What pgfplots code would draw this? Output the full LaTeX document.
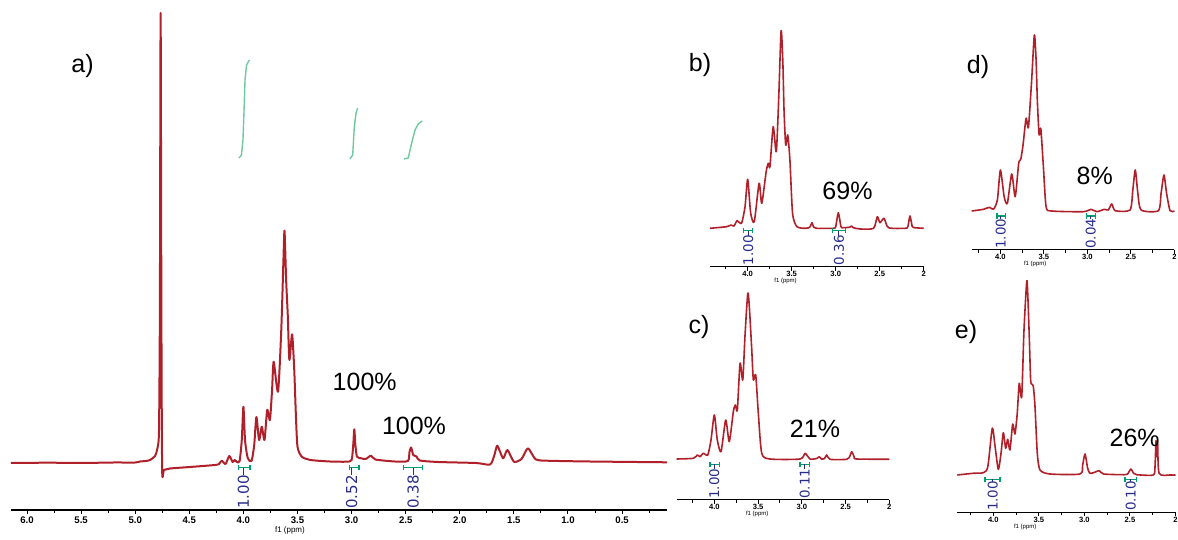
\documentclass[border=0pt]{standalone}
\usepackage{pgfplots}
\pgfplotsset{compat=1.18}
\usepackage{fontspec}
\setmainfont{Liberation Sans}
\newfontfamily\dejavu{DejaVu Sans}
\definecolor{spec}{RGB}{175,32,42}
\definecolor{intg}{RGB}{0,160,110}
\definecolor{intb}{RGB}{40,45,140}
\definecolor{icurve}{RGB}{110,200,160}
\newcommand{\integ}[7]{%
  \draw[intg, line width=0.6pt] (axis cs:#1,#3) -- (axis cs:#2,#3);
  \draw[intg, line width=0.6pt] ([yshift=-1.3pt]axis cs:#1,#3) -- ([yshift=1.3pt]axis cs:#1,#3);
  \draw[intg, line width=0.6pt] ([yshift=-1.3pt]axis cs:#2,#3) -- ([yshift=1.3pt]axis cs:#2,#3);
  \draw[intb, line width=0.5pt] (axis cs:#4,#3) -- (axis cs:#4,#7);
  \node[rotate=90, anchor=west, inner sep=0pt, text=intb, font=\dejavu\fontsize{#6}{#6}\selectfont] at (axis cs:#4,1) {#5};
}
\pgfplotsset{
  nmr/.style={scale only axis, clip=false, x dir=reverse,
    axis x line*=bottom, axis y line=none, axis line style={-, line width=0.5pt},
    ytick=\empty, tick align=outside, major tick length=2pt, minor tick length=1.3pt,
    tick style={black, line width=0.5pt},
    /pgf/number format/assume math mode=true, ymin=0, anchor=south west},
  sub/.style={nmr, xmin=2, xtick={2,2.5,3,3.5,4}, xticklabels={2,2.5,3.0,3.5,4.0},
    minor xtick={2.25,2.75,3.25,3.75,4.25},
    xticklabel style={font=\fontsize{3.8}{4}\selectfont\bfseries, anchor=center, yshift=-1.6pt}},
  sp/.style={color=spec, line width=0.8pt, no marks, line join=round, smooth, tension=0.4},
}
\begin{document}
\begin{tikzpicture}[x=1pt,y=1pt]
\useasboundingbox (0,0) rectangle (589,270);
% ---------------- panel a
\begin{axis}[nmr, at={(5.5pt,15pt)}, width=328pt, height=255pt, xmin=0.085, xmax=6.148, ymax=510,
  axis line style={-, line width=0.8pt},
  xtick={0.5,1,1.5,2,2.5,3,3.5,4,4.5,5,5.5,6},
  xticklabels={0.5,1.0,1.5,2.0,2.5,3.0,3.5,4.0,4.5,5.0,5.5,6.0},
  minor xtick={0.25,0.75,1.25,1.75,2.25,2.75,3.25,3.75,4.25,4.75,5.25,5.75},
  xticklabel style={font=\fontsize{4.8}{5}\selectfont\bfseries, anchor=center, yshift=-3pt}]
\addplot[sp, line width=1pt] coordinates {
(6.148,47) (5.8,47.3) (5.5,47) (5.2,47.5) (5.0,47.5) (4.956,48.5) (4.90,49) (4.863,50) (4.817,54) (4.794,62) (4.780,80) (4.772,200) (4.765,497) (4.758,200) (4.751,41) (4.734,40) (4.678,41.5) (4.494,43) (4.262,45) (4.226,46) (4.20,49.3) (4.165,46) (4.13,54) (4.10,48) (4.08,50) (4.06,48) (4.035,49) (4.015,70) (4.0,103.3) (3.985,70) (3.96,52) (3.925,49) (3.90,65) (3.88,93) (3.855,70) (3.83,83.3) (3.805,70) (3.78,100) (3.755,90) (3.735,120) (3.72,148.3) (3.68,118.3) (3.65,180) (3.63,250) (3.62,279.3) (3.605,230) (3.59,195) (3.575,150) (3.55,175.7) (3.53,140) (3.515,95) (3.50,63.3) (3.46,53.3) (3.38,50) (3.2,48.5) (3.05,48.3) (3.0,50) (2.985,65) (2.975,80.7) (2.965,65) (2.95,53.3) (2.91,51.7) (2.87,51) (2.82,54.3) (2.78,50.5) (2.6,48.5) (2.48,49) (2.465,58) (2.45,62.5) (2.43,55) (2.40,53.5) (2.37,49.5) (2.2,48) (1.85,47) (1.72,45.5) (1.68,55) (1.653,64.3) (1.60,51.7) (1.56,60) (1.50,48.3) (1.43,51) (1.37,61.7) (1.30,50.7) (1.20,49.3) (0.8,48.5) (0.085,47.7)};
\addplot[color=icurve, line width=0.7pt, no marks] coordinates {(4.041,352) (4.018,355) (4.004,370) (3.994,400) (3.985,430) (3.971,445) (3.945,450)};
\addplot[color=icurve, line width=0.7pt, no marks] coordinates {(3.015,351) (2.990,355) (2.975,383) (2.959,397) (2.944,402)};
\addplot[color=icurve, line width=0.7pt, no marks] coordinates {(2.516,351) (2.476,352) (2.445,367) (2.414,380) (2.384,386) (2.347,389)};
\integ{4.047}{3.939}{42.3}{4.0}{1.00}{7.5}{35}
\integ{3.021}{2.932}{42.3}{3.0}{0.52}{7.5}{35}
\integ{2.522}{2.343}{42.3}{2.43}{0.38}{7.5}{35}
\node[font=\fontsize{4}{4}\selectfont, yshift=-10.3pt] at (axis cs:3.57,0) {f1 (ppm)};
\end{axis}
% ---------------- panel b
\begin{axis}[sub, at={(355pt,136.65pt)}, width=106.85pt, height=123.35pt, xmax=4.428, ymax=246.7]
\addplot[sp] coordinates {
(4.428,38.4) (4.24,40) (4.19,41.7) (4.155,40.7) (4.12,46) (4.07,43.4) (4.03,60) (4.0,87.4) (3.966,53.7) (3.925,45) (3.87,83.4) (3.84,63.4) (3.79,95) (3.766,103.4) (3.747,100) (3.71,140) (3.675,115) (3.648,166.7) (3.62,236) (3.60,203.4) (3.587,156.7) (3.568,121.7) (3.545,131.7) (3.52,106.7) (3.49,53.4) (3.44,40) (3.33,38.4) (3.29,40) (3.27,44) (3.25,39.5) (3.216,38.4) (3.027,38.4) (3.0,40) (2.97,54) (2.94,40) (2.914,39) (2.84,39.5) (2.82,40.7) (2.8,39) (2.72,37.7) (2.57,38.4) (2.527,50) (2.497,44) (2.45,48.4) (2.40,39) (2.21,38.4) (2.18,40) (2.156,50.7) (2.13,40) (2.107,39) (2.0,38.4)};
\integ{4.05}{3.943}{36}{3.993}{1.00}{6.7}{31}
\integ{3.034}{2.89}{36}{2.963}{0.36}{6.7}{31}
\node[font=\fontsize{3}{3}\selectfont, yshift=-7.2pt] at (axis cs:3.57,0) {f1 (ppm)};
\end{axis}
% ---------------- panel d
\begin{axis}[sub, at={(485.85pt,145pt)}, width=101.35pt, height=112.5pt, xmax=4.33, ymax=225]
\addplot[sp] coordinates {
(4.33,39) (4.195,40.7) (4.126,42.7) (4.08,40.7) (4.035,50) (4.0,80) (3.957,53.3) (3.92,46.7) (3.87,76) (3.83,53.3) (3.79,86.7) (3.766,90.7) (3.74,105) (3.705,131.7) (3.678,122.7) (3.643,166.7) (3.61,215) (3.59,190) (3.575,148.3) (3.555,115) (3.536,121.7) (3.506,83.3) (3.475,43.3) (3.41,39) (3.046,38.3) (2.96,40.7) (2.89,38.3) (2.805,40.7) (2.76,40) (2.72,46) (2.68,39.3) (2.51,40) (2.478,60) (2.45,80) (2.42,56.7) (2.383,40) (2.184,39.3) (2.153,56.7) (2.12,75) (2.09,56.7) (2.05,39.3) (2.0,39)};
\integ{4.04}{3.946}{34}{3.996}{1.00}{6.7}{31}
\integ{3.007}{2.91}{34}{2.961}{0.04}{6.7}{31}
\node[font=\fontsize{3}{3}\selectfont, yshift=-7.2pt] at (axis cs:3.6,0) {f1 (ppm)};
\end{axis}
% ---------------- panel c
\begin{axis}[sub, at={(338.35pt,20pt)}, width=106.3pt, height=107.5pt, xmax=4.43, ymax=215]
\addplot[sp] coordinates {
(4.43,41) (4.24,41.7) (4.194,45) (4.163,43.3) (4.126,46.7) (4.075,45) (4.038,60) (4.0,85) (3.966,60) (3.923,48.3) (3.87,80) (3.829,58.3) (3.783,88.3) (3.76,95) (3.737,90) (3.706,136.7) (3.675,120) (3.65,163.3) (3.618,206.7) (3.6,193.3) (3.573,151.7) (3.554,120) (3.527,125) (3.497,86.7) (3.458,46.7) (3.363,41) (3.02,41) (2.963,46.7) (2.906,41) (2.83,41.5) (2.8,43.3) (2.775,41) (2.74,41.5) (2.715,45) (2.678,40.7) (2.487,40.7) (2.45,44) (2.43,48.3) (2.40,43) (2.373,41) (2.0,40.7)};
\integ{4.05}{3.94}{35.7}{4.0}{1.00}{6.7}{31}
\integ{3.02}{2.91}{35.7}{2.966}{0.11}{6.7}{31}
\node[font=\fontsize{3}{3}\selectfont, yshift=-7.2pt] at (axis cs:3.51,0) {f1 (ppm)};
\end{axis}
% ---------------- panel e
\begin{axis}[sub, at={(478.65pt,13.85pt)}, width=109.1pt, height=115.65pt, xmax=4.395, ymax=231.3]
\addplot[sp] coordinates {
(4.395,37.3) (4.22,39) (4.11,39.6) (4.06,45.6) (4.011,84) (3.98,65.6) (3.945,43) (3.915,59) (3.89,79.6) (3.864,64) (3.842,73) (3.817,62.3) (3.787,88.3) (3.762,78.3) (3.737,99) (3.715,129) (3.688,115.6) (3.663,182.3) (3.633,231) (3.622,219) (3.605,175.6) (3.59,132.3) (3.575,128) (3.56,125.6) (3.542,105.6) (3.517,59) (3.487,42.3) (3.378,38.3) (3.048,38.3) (3.019,47.3) (2.993,58.3) (2.964,44) (2.94,39) (2.9,39.6) (2.836,41.6) (2.79,38.3) (2.554,37.6) (2.52,39) (2.49,43.3) (2.46,39) (2.426,37.6) (2.244,37.3) (2.225,45.6) (2.214,71.6) (2.207,55.6) (2.196,69) (2.18,39) (2.06,37.3) (2.0,37.3)};
\integ{4.09}{3.926}{33}{4.007}{1.00}{6.7}{30}
\integ{2.554}{2.43}{33}{2.492}{0.10}{6.7}{30}
\node[font=\fontsize{3}{3}\selectfont, yshift=-7.2pt] at (axis cs:3.65,0) {f1 (ppm)};
\end{axis}
% ---------------- labels
\begin{scope}[font=\fontsize{12.5}{13}\selectfont]
\node[anchor=base] at (41.25,233.65) {a)};
\node[anchor=base] at (182.35,74.65) {100\%};
\node[anchor=base] at (207,52.5) {100\%};
\node[anchor=base] at (350,234.15) {b)};
\node[anchor=base] at (423.75,170) {69\%};
\node[anchor=base] at (489,233) {d)};
\node[anchor=base] at (547.35,177.5) {8\%};
\node[anchor=base] at (349.5,103.35) {c)};
\node[anchor=base] at (407.5,51.35) {21\%};
\node[anchor=base] at (483,100.85) {e)};
\node[anchor=base] at (567.35,46.65) {26\%};
\end{scope}
\end{tikzpicture}
\end{document}
